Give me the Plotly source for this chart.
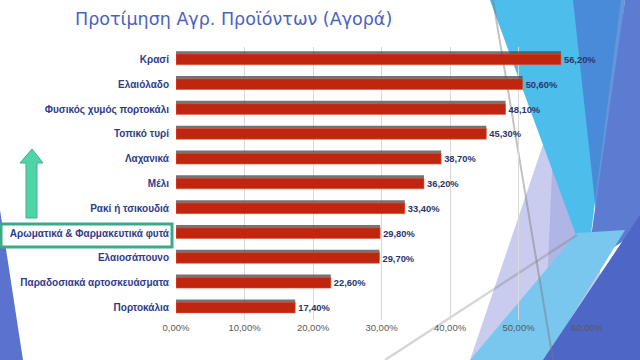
import plotly.graph_objects as go

categories = [
    "Κρασί", "Ελαιόλαδο", "Φυσικός χυμός πορτοκάλι", "Τοπικό τυρί", "Λαχανικά",
    "Μέλι", "Ρακί ή τσικουδιά", "Αρωματικά & Φαρμακευτικά φυτά", "Ελαιοσάπουνο",
    "Παραδοσιακά αρτοσκευάσματα", "Πορτοκάλια",
]
values = [0.562, 0.506, 0.481, 0.453, 0.387, 0.362, 0.334, 0.298, 0.297, 0.226, 0.174]
title_text = "Προτίμηση Αγρ. Προϊόντων (Αγορά)"

W, H = 640, 360


def path(pts):
    s = ""
    for i, (x, y) in enumerate(pts):
        s += ("M" if i == 0 else "L") + f"{x / W:.4f},{1 - y / H:.4f} "
    return s + "Z"


def poly(pts, color, line=None, lw=0, layer="below"):
    return dict(type="path", xref="paper", yref="paper", path=path(pts),
                fillcolor=color, line=dict(color=line or "rgba(0,0,0,0)", width=lw),
                layer=layer)


def seg(p0, p1, color, width):
    return dict(type="line", xref="paper", yref="paper",
                x0=p0[0] / W, y0=1 - p0[1] / H, x1=p1[0] / W, y1=1 - p1[1] / H,
                line=dict(color=color, width=width), layer="below")


shapes = [
    # right decorative triangles
    poly([(548, 130), (470, 360), (600, 360), (600, 250)], "#C9CCEE"),
    poly([(553, 150), (587, 265), (545, 330)], "#AFB5E5"),
    poly([(490, 0), (621, 0), (587, 265)], "#4DBDEB"),
    poly([(573, 0), (625, 0), (598, 230)], "rgba(74,130,214,0.85)"),
    poly([(625, 0), (640, 0), (640, 230), (587, 265)], "#5C7CD2"),
    poly([(470, 360), (545, 360), (625, 230), (577, 233)], "#79C6EE"),
    poly([(640, 215), (640, 360), (543, 360)], "#4E67C6"),
    seg((493, 0), (553, 360), "rgba(120,120,120,0.45)", 2),
    seg((577, 235), (385, 360), "rgba(120,120,120,0.3)", 2.5),
    # left sliver
    poly([(0, 210), (23, 360), (0, 360)], "#5B73CF"),
    # green arrow
    poly([(32, 149), (43, 163), (37, 163), (37, 218), (26, 218), (26, 163), (20, 163)],
         "#4FD4A8", line="#3FB28E", lw=1),
    # highlight box
    dict(type="rect", xref="paper", yref="paper", x0=1 / W, x1=172 / W,
         y0=1 - 247 / H, y1=1 - 224 / H, fillcolor="white",
         line=dict(color="#3BA98A", width=3), layer="below"),
]

fig = go.Figure()
fig.add_trace(go.Bar(
    y=categories, x=values, orientation="h", width=0.43, offset=-0.33,
    marker=dict(color="rgba(70,70,70,0.75)", line=dict(width=0)),
    hoverinfo="skip", showlegend=False,
))
fig.add_trace(go.Bar(
    y=categories, x=values, orientation="h", width=0.43, offset=-0.215,
    marker=dict(color="#C0250F", line=dict(color="#DC5A40", width=0.6)),
    text=values, texttemplate="%{x:.2%}", textposition="outside", cliponaxis=False,
    textfont=dict(family="Liberation Sans", size=10.5, color="#2B3568", weight="bold"),
    showlegend=False,
))

fig.update_layout(
    width=W, height=H, barmode="overlay", separators=",.",
    margin=dict(l=0, r=0, t=0, b=0, autoexpand=False),
    paper_bgcolor="white", plot_bgcolor="rgba(0,0,0,0)",
    shapes=shapes,
    xaxis=dict(domain=[176 / W, 587 / W], range=[0, 0.6], dtick=0.1, tickformat=".2%",
               showgrid=True, gridcolor="#D9D9D9", gridwidth=1, zeroline=False,
               showline=False, ticks="", automargin=False,
               tickfont=dict(family="Liberation Sans", size=9.5, color="#595959")),
    yaxis=dict(domain=[1 - 320 / H, 1 - 47 / H], autorange="reversed", showgrid=False,
               showline=False, ticks="", ticklabelstandoff=6, automargin=False,
               tickfont=dict(family="Liberation Sans", size=10, color="#2E3C8A",
                             weight="bold")),
    annotations=[dict(text=title_text, xref="paper", yref="paper", x=233 / W,
                      y=1 - 19 / H, xanchor="center", yanchor="middle", showarrow=False,
                      font=dict(family="DejaVu Sans", size=17.5, color="#4A62C4"))],
)

fig.write_html("out.html", config={"displayModeBar": False},
               post_script="document.body.style.margin='0';document.body.style.padding='0';")
